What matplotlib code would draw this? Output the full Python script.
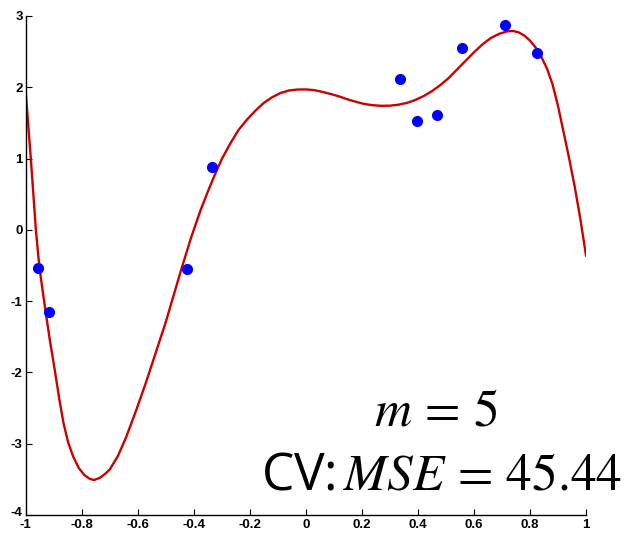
import matplotlib
matplotlib.use("Agg")
import matplotlib.pyplot as plt
import matplotlib.transforms as mtransforms

# data points (blue)
pts_x = [-0.955, -0.915, -0.422, -0.334, 0.337, 0.398, 0.470, 0.557, 0.711, 0.826]
pts_y = [-0.53, -1.15, -0.55, 0.875, 2.118, 1.522, 1.607, 2.553, 2.877, 2.480]

# fitted curve (red)
curve_x = [-1.0, -0.981, -0.963, -0.954, -0.945, -0.93, -0.913, -0.895, -0.88, -0.865,
           -0.848, -0.83, -0.81, -0.79, -0.772, -0.756, -0.735, -0.715, -0.699, -0.67,
           -0.64, -0.605, -0.57, -0.535, -0.5, -0.47, -0.443,
           -0.41, -0.39, -0.375, -0.35, -0.327, -0.3, -0.268, -0.24, -0.209, -0.18,
           -0.15, -0.12, -0.09, -0.06, -0.03, 0.0, 0.03, 0.06, 0.09, 0.12,
           0.15, 0.18, 0.21, 0.24, 0.27, 0.30, 0.33, 0.36, 0.39, 0.42,
           0.45, 0.48, 0.51, 0.54, 0.57, 0.60, 0.63, 0.66, 0.69, 0.72,
           0.74, 0.76, 0.78, 0.80, 0.82, 0.84, 0.86, 0.88, 0.90, 0.92,
           0.94, 0.96, 0.98, 1.0]
curve_y = [1.97, 1.0, 0.0, -0.38, -0.68, -1.1, -1.55, -1.98, -2.36, -2.70,
           -2.98, -3.18, -3.34, -3.44, -3.49, -3.51, -3.48, -3.42, -3.36, -3.17,
           -2.90, -2.53, -2.14, -1.72, -1.30, -0.90, -0.54,
           -0.12, 0.11, 0.28, 0.53, 0.75, 0.99, 1.22, 1.40, 1.55, 1.67,
           1.78, 1.86, 1.92, 1.955, 1.968, 1.97, 1.96, 1.935, 1.905, 1.87,
           1.83, 1.795, 1.765, 1.748, 1.74, 1.742, 1.755, 1.78, 1.82, 1.875,
           1.945, 2.03, 2.13, 2.25, 2.37, 2.49, 2.60, 2.69, 2.75, 2.785,
           2.79, 2.77, 2.725, 2.655, 2.56, 2.43, 2.27, 2.05, 1.74, 1.37,
           1.0, 0.60, 0.15, -0.36]

xticks = [-1, -0.8, -0.6, -0.4, -0.2, 0, 0.2, 0.4, 0.6, 0.8, 1]
xtick_labels = ["-1", "-0.8", "-0.6", "-0.4", "-0.2", "0", "0.2", "0.4", "0.6", "0.8", "1"]
yticks = [-4, -3, -2, -1, 0, 1, 2, 3]
ytick_labels = ["-4", "-3", "-2", "-1", "0", "1", "2", "3"]

label_m = r"$m\, =\, 5$"
label_cv = r"CV:$\,MSE\, =\, 45.44$"

plt.rcParams["mathtext.fontset"] = "stix"

fig = plt.figure(figsize=(6.25, 5.33), dpi=100)
ax = fig.add_axes([0.0408, 0.0338, 0.8968, 0.9362])

ax.plot(curve_x, curve_y, color="#cc0000", lw=1.7, zorder=2, solid_joinstyle="round")
ax.plot(pts_x, pts_y, "o", color="#0000ff", ms=7, mec="#0000ff", zorder=3, clip_on=False)

ax.set_xlim(-1, 1)
ax.set_ylim(-4, 3)
ax.set_xticks(xticks)
ax.set_xticklabels(xtick_labels)
ax.set_yticks(yticks)
ax.set_yticklabels(ytick_labels)
for s in ["top", "right"]:
    ax.spines[s].set_visible(False)
for s in ["left", "bottom"]:
    ax.spines[s].set_linewidth(1.0)
ax.tick_params(direction="in", length=4, width=0.8, pad=2)
ax.tick_params(axis="x", pad=3)
for lab in ax.get_xticklabels() + ax.get_yticklabels():
    lab.set_family(["Liberation Sans Narrow", "Liberation Sans", "DejaVu Sans"])
    lab.set_fontweight("bold")
    lab.set_fontsize(9.5)

# nudge the lowest y label up a little so it does not touch the "-1" x label
ylabs = ax.get_yticklabels()
ylabs[0].set_verticalalignment("bottom")
ylabs[0].set_transform(ylabs[0].get_transform() +
                       mtransforms.ScaledTranslation(0, -3 / 72, fig.dpi_scale_trans))

fig.text(0.698, 0.2026, label_m, fontsize=37, ha="center", va="baseline")
fig.text(0.706, 0.0807, label_cv, fontsize=37, ha="center", va="baseline",
         family=["Open Sans", "DejaVu Sans"])

fig.savefig("out.png", dpi=100)
